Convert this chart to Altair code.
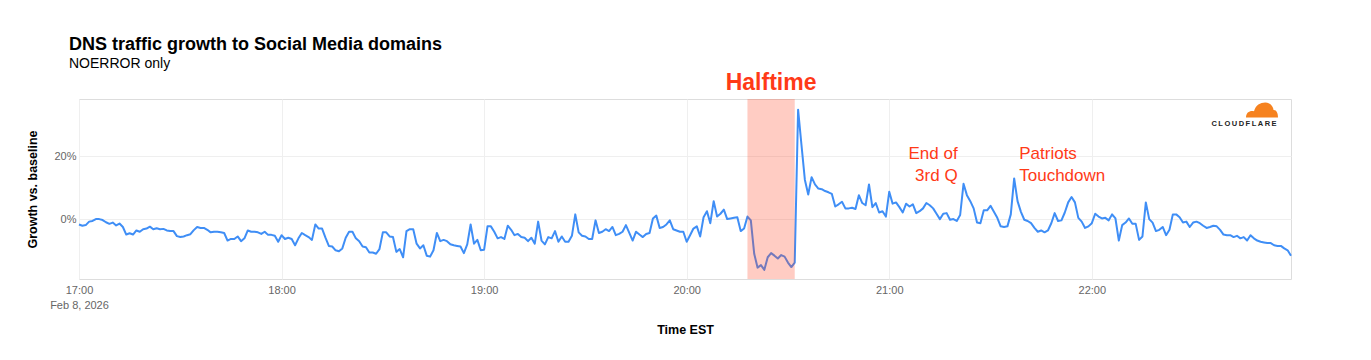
import altair as alt
import pandas as pd

# ---- data ----
growth = [
    -1.7, -2.1, -1.9, -0.8, -0.6, 0.0, 0.0, -0.3, -1.0, -1.5,
    -1.1, -2.0, -1.4, -2.5, -4.9, -4.5, -4.9, -3.6, -4.0, -3.2,
    -3.0, -2.4, -3.2, -2.9, -3.2, -3.1, -3.6, -3.8, -3.8, -5.4,
    -5.7, -5.5, -5.1, -4.8, -3.5, -2.5, -2.8, -2.8, -3.4, -4.2,
    -4.0, -4.0, -4.2, -4.4, -6.8, -6.3, -6.3, -5.5, -7.0, -6.1,
    -3.6, -4.0, -4.0, -4.2, -4.7, -4.0, -5.0, -5.0, -5.3, -7.2,
    -5.1, -6.3, -5.9, -6.3, -8.3, -6.1, -4.4, -5.1, -5.7, -6.6,
    -1.7, -3.0, -3.0, -5.9, -8.5, -8.7, -9.9, -10.2, -9.3, -5.9,
    -4.0, -4.0, -6.1, -7.0, -8.7, -8.9, -10.6, -10.6, -11.0, -9.5,
    -4.2, -4.2, -5.5, -5.7, -10.4, -9.5, -12.1, -3.8, -3.2, -3.2,
    -7.8, -9.3, -8.3, -11.6, -11.9, -9.9, -4.4, -7.0, -6.6, -7.0,
    -8.0, -8.3, -8.5, -8.7, -10.8, -8.0, -1.7, -7.8, -6.6, -9.9,
    -9.7, -2.3, -2.3, -4.0, -6.1, -5.7, -6.3, -2.1, -3.4, -5.1,
    -4.7, -5.7, -5.9, -7.0, -5.9, -7.8, -0.8, -6.8, -8.0, -5.7,
    -6.1, -3.8, -7.2, -5.5, -7.2, -7.2, -5.3, 1.5, -4.2, -5.3,
    -5.5, -6.3, -6.3, -0.4, -4.4, -4.0, -3.2, -3.8, -2.5, -5.1,
    -4.7, -4.0, -1.9, -4.4, -6.8, -4.0, -4.9, -5.7, -4.7, -4.4,
    0.2, 1.1, -2.8, -2.5, -1.7, -0.4, -3.2, -3.6, -4.0, -4.0,
    -7.2, -5.1, -3.0, -2.3, -5.5, 0.6, 2.5, -1.3, 5.7, 0.8,
    1.7, 3.0, 0.0, 0.2, 0.4, 0.6, -3.8, -3.0, 0.8, -0.4,
    -11.0, -15.4, -14.6, -16.1, -12.1, -10.8, -11.6, -12.5, -11.4, -11.9,
    -13.8, -15.2, -13.8, 34.7, 23.5, 12.5, 7.8, 13.3, 11.0, 9.7,
    9.5, 8.9, 8.5, 8.0, 4.0, 4.7, 5.5, 3.4, 3.4, 3.6,
    3.2, 7.6, 5.1, 4.4, 11.0, 3.8, 5.1, 2.1, 2.5, 0.8,
    8.7, 4.9, 5.3, 3.8, 2.1, 4.9, 4.0, 4.7, 1.9, 2.5,
    3.4, 5.1, 4.4, 3.4, 1.7, 0.0, 1.7, 1.9, -0.2, 0.0,
    -0.6, 1.3, 11.2, 7.6, 5.7, 3.4, -1.1, -1.3, 2.8, 2.8,
    4.2, 2.3, 0.4, -2.3, -2.5, -2.3, 1.5, 12.9, 5.7, 2.3,
    -0.2, -0.6, -1.3, -2.8, -4.0, -3.6, -4.2, -3.6, -1.3, 1.9,
    -0.6, -0.4, 2.1, 5.3, 7.0, 5.3, 0.4, -0.8, -2.8, -2.3,
    -1.3, 1.7, 0.8, 0.2, 0.4, -0.4, 1.5, 0.2, -6.8, -1.9,
    -1.1, 0.2, -1.5, -1.5, -6.6, -5.5, 5.3, 0.0, -1.1, -3.8,
    -3.4, -2.5, -5.1, -3.4, 1.5, 1.5, 0.6, -1.1, -0.8, -2.5,
    -1.1, -0.8, -1.3, -2.1, -2.8, -2.5, -2.1, -2.3, -3.4, -4.9,
    -5.1, -5.1, -5.7, -5.3, -6.1, -5.7, -6.8, -5.1, -6.1, -6.8,
    -7.2, -7.4, -7.6, -7.6, -8.3, -8.5, -8.5, -9.3, -9.9, -11.6,
]
start_time = "2026-02-08T17:00:00Z"
hour_ticks = ["2026-02-08T17:00:00Z", "2026-02-08T18:00:00Z", "2026-02-08T19:00:00Z",
              "2026-02-08T20:00:00Z", "2026-02-08T21:00:00Z", "2026-02-08T22:00:00Z"]
date_label = "Feb 8, 2026"
y_ticks = [0, 20]

band_start = ["2026-02-08T20:18:00Z"]
band_end = ["2026-02-08T20:32:00Z"]
band_label = ["Halftime"]
band_label_time = ["2026-02-08T20:25:00Z"]
band_label_y = [41]

q3_text = ["End of", "3rd Q"]
q3_time = ["2026-02-08T21:20:15Z", "2026-02-08T21:20:15Z"]
q3_y = [19.0, 12.1]
td_text = ["Patriots", "Touchdown"]
td_time = ["2026-02-08T21:38:30Z", "2026-02-08T21:38:30Z"]
td_y = [19.0, 12.1]

# ---- tables ----
t0 = pd.Timestamp(start_time)
times = [(t0 + pd.Timedelta(minutes=i)).strftime("%Y-%m-%dT%H:%M:%SZ") for i in range(len(growth))]
df = pd.DataFrame({"time": times, "growth": growth})
band_df = pd.DataFrame({"start": band_start, "end": band_end, "label": band_label,
                        "lt": band_label_time, "ly": band_label_y})
q3_df = pd.DataFrame({"t": q3_time, "v": q3_y, "text": q3_text})
td_df = pd.DataFrame({"t": td_time, "v": td_y, "text": td_text})

def ms(s):
    return int(pd.Timestamp(s).value // 10**6)

x_domain = [ms(times[0]), ms(times[-1])]
tick_ms = [ms(s) for s in hour_ticks]

FONT = "Liberation Sans"
RED = "#ff3a17"

x_axis = alt.Axis(
    values=tick_ms,
    labelExpr=f"utchours(datum.value) == 17 ? [utcFormat(datum.value, '%H:%M'), '{date_label}'] : utcFormat(datum.value, '%H:%M')",
    grid=True, gridColor="#efefef", domain=False, ticks=False,
    labelColor="#666666", labelFontSize=11, labelPadding=5, labelLineHeight=15,
    labelFont=FONT, labelFlush=False, labelAlign="center",
    title="Time EST", titleFontSize=12.5, titleFontWeight="bold", titleColor="#000000",
    titleFont=FONT, titleX=606, titleY=50, titleBaseline="middle",
)
y_axis = alt.Axis(
    values=y_ticks, labelExpr="datum.value + '%'",
    grid=True, gridColor="#efefef", domain=False, ticks=False,
    labelColor="#666666", labelFontSize=11, labelPadding=3, labelFont=FONT,
    title="Growth vs. baseline", titleFontSize=12.5, titleFontWeight="bold",
    titleColor="#000000", titleFont=FONT, titleX=-47, titleY=90,
    titleBaseline="middle", titleAlign="center",
)

x_enc = alt.X("time:T", scale=alt.Scale(type="utc", domain=x_domain, nice=False), axis=x_axis)
y_enc = alt.Y("growth:Q", scale=alt.Scale(domain=[-19, 38.1], nice=False, zero=False), axis=y_axis)

line = alt.Chart(df).mark_line(color="#3f8ef6", strokeWidth=2, strokeJoin="round").encode(x=x_enc, y=y_enc)

band = alt.Chart(band_df).mark_rect(color="#ff4422", opacity=0.27).encode(
    x=alt.X("start:T"), x2="end:T"
)
band_text = alt.Chart(band_df).mark_text(
    font=FONT, fontSize=23, fontWeight="bold", color=RED, align="center", baseline="alphabetic"
).encode(x="lt:T", y="ly:Q", text="label:N")

q3 = alt.Chart(q3_df).mark_text(
    font=FONT, fontSize=17, color=RED, baseline="alphabetic", align="right"
).encode(x="t:T", y="v:Q", text="text:N")
td = alt.Chart(td_df).mark_text(
    font=FONT, fontSize=17, color=RED, baseline="alphabetic", align="left"
).encode(x="t:T", y="v:Q", text="text:N")

logo_text = alt.Chart(pd.DataFrame({"txt": ["C\u2009L\u2009O\u2009U\u2009D\u2009F\u2009L\u2009A\u2009R\u2009E"]})).mark_text(
    font=FONT, fontSize=7.5, fontWeight="bold", color="#222222", align="center", baseline="middle"
).encode(x=alt.value(1165), y=alt.value(25), text="txt:N")

cloud_path = ("M -1 0.47 C -1 0.15 -0.75 0.02 -0.5 0.08 C -0.4 -0.3 -0.1 -0.47 0.2 -0.47 "
              "C 0.5 -0.47 0.7 -0.25 0.72 0.0 C 0.9 -0.02 1 0.2 1 0.47 Z")
logo_cloud = alt.Chart(pd.DataFrame({"k": ["cloud"]})).mark_point(
    shape=cloud_path, filled=True, color="#f6821f", opacity=1, size=1024, strokeWidth=0
).encode(x=alt.value(1183), y=alt.value(11))

chart = alt.layer(line, band, band_text, q3, td, logo_cloud, logo_text).properties(
    width=1212, height=180,
    title=alt.TitleParams(
        text="DNS traffic growth to Social Media domains", subtitle="NOERROR only",
        anchor="start", frame="group", dx=-10, offset=1,
        font=FONT, fontSize=18, fontWeight="bold", color="#000000",
        subtitleFont=FONT, subtitleFontSize=14, subtitleColor="#000000", subtitlePadding=3,
    ),
    autosize=alt.AutoSizeParams(type="none"),
    padding={"left": 71, "top": 91, "right": 60, "bottom": 60},
).configure_view(stroke="#efefef").configure(background="white")

chart.save("out.html", embed_options={"renderer": "svg", "actions": False})
